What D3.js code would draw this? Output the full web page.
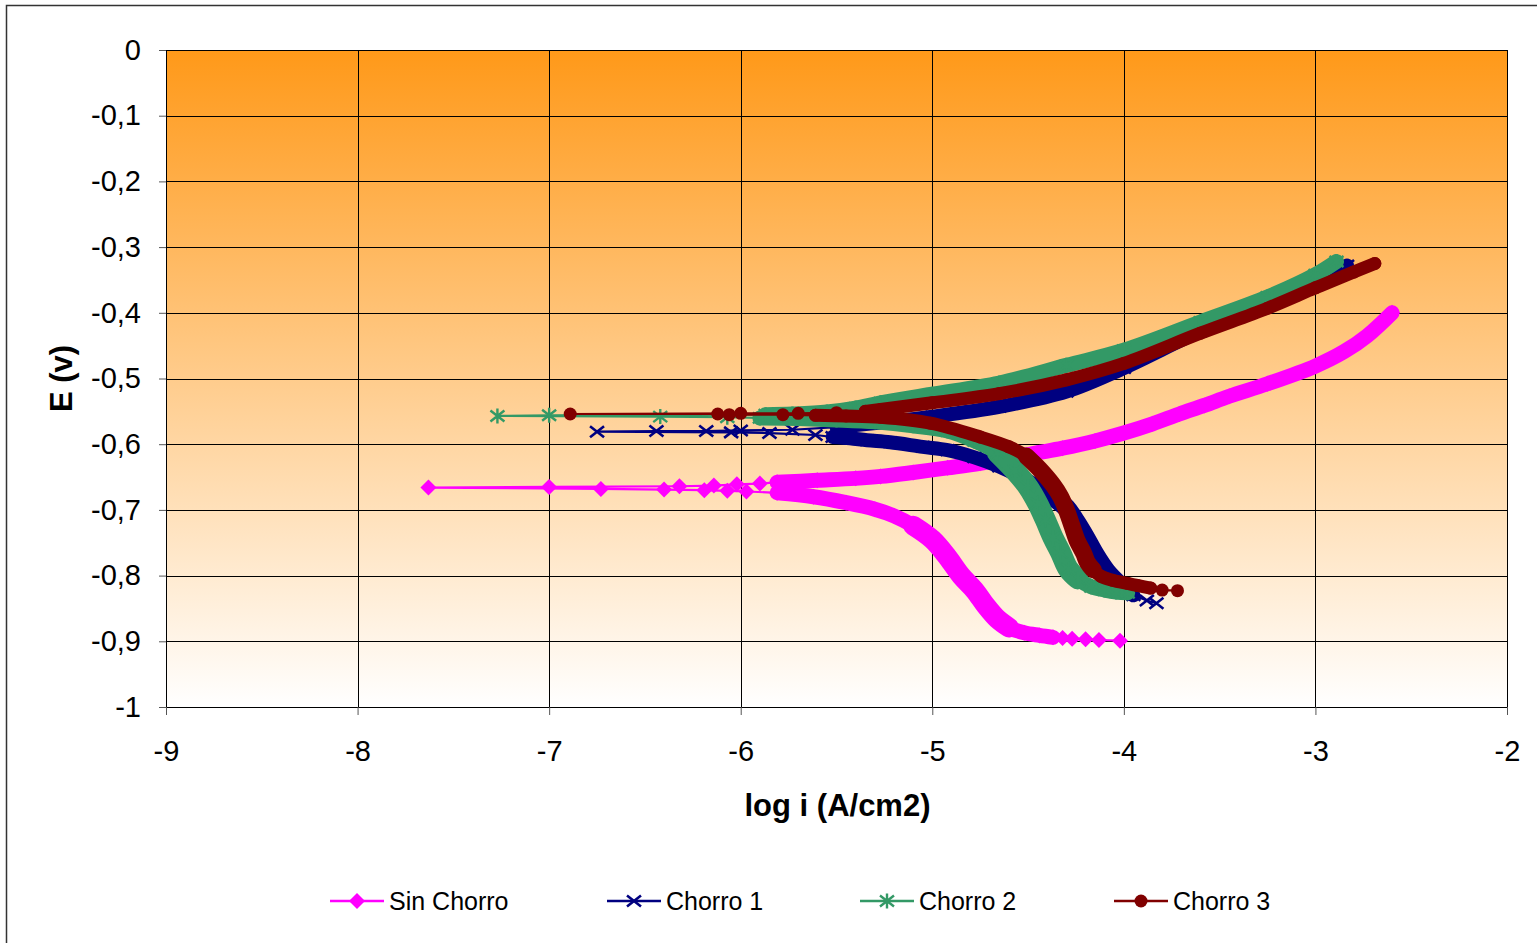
<!DOCTYPE html>
<html>
<head>
<meta charset="utf-8">
<script src="https://cdn.jsdelivr.net/npm/d3@7"></script>
<style>
  body { margin: 0; background: #fff; }
  text { font-family: "Liberation Sans", Arial, sans-serif; }
</style>
</head>
<body>
<svg id="chart" width="1537" height="943"></svg>
<script>
// tick values and labels
var xTicks = [-9, -8, -7, -6, -5, -4, -3, -2];
var yTicks = [0, -0.1, -0.2, -0.3, -0.4, -0.5, -0.6, -0.7, -0.8, -0.9, -1];
var yTickLabels = ["0", "-0,1", "-0,2", "-0,3", "-0,4", "-0,5", "-0,6", "-0,7", "-0,8", "-0,9", "-1"];

var seriesNames = ["Sin Chorro", "Chorro 1", "Chorro 2", "Chorro 3"];

// [log i, E] in scan order: cathodic end -> Ecorr -> anodic end
var sinChorro = [
  [-4.02, -0.899], [-4.13, -0.898], [-4.20, -0.897], [-4.27, -0.896], [-4.32, -0.895],
  [-4.37, -0.894], [-4.44, -0.891], [-4.52, -0.887], [-4.60, -0.879], [-4.66, -0.866],
  [-4.72, -0.846], [-4.78, -0.822], [-4.85, -0.800], [-4.92, -0.772], [-5.00, -0.745],
  [-5.10, -0.724], [-5.20, -0.709], [-5.30, -0.699], [-5.45, -0.689], [-5.62, -0.680],
  [-5.81, -0.674], [-5.97, -0.672], [-6.07, -0.671], [-6.19, -0.670], [-6.40, -0.669],
  [-6.73, -0.668], [-7.63, -0.666], [-7.00, -0.665], [-6.32, -0.664], [-6.14, -0.663],
  [-6.02, -0.661], [-5.90, -0.660], [-5.81, -0.658], [-5.60, -0.655], [-5.40, -0.652],
  [-5.27, -0.649], [-5.10, -0.643], [-4.92, -0.636], [-4.75, -0.629], [-4.58, -0.620],
  [-4.45, -0.613], [-4.32, -0.606], [-4.15, -0.595], [-4.00, -0.583], [-3.85, -0.569],
  [-3.71, -0.554], [-3.58, -0.541], [-3.45, -0.527], [-3.25, -0.508], [-3.00, -0.481],
  [-2.85, -0.459], [-2.73, -0.435], [-2.60, -0.400]
];
var chorro1 = [
  [-3.83, -0.842], [-3.88, -0.838], [-3.95, -0.830], [-4.02, -0.815], [-4.09, -0.794],
  [-4.15, -0.768], [-4.20, -0.742], [-4.25, -0.718], [-4.30, -0.697], [-4.37, -0.680],
  [-4.45, -0.664], [-4.55, -0.648], [-4.65, -0.634], [-4.78, -0.620], [-4.92, -0.609],
  [-5.05, -0.604], [-5.22, -0.597], [-5.34, -0.594], [-5.43, -0.591], [-5.52, -0.589],
  [-5.61, -0.586], [-5.85, -0.583], [-6.05, -0.582], [-6.75, -0.581], [-6.44, -0.580],
  [-6.18, -0.580], [-6.00, -0.579], [-5.73, -0.578], [-5.50, -0.574], [-5.27, -0.567],
  [-5.00, -0.558], [-4.65, -0.543], [-4.30, -0.520], [-4.00, -0.484], [-3.60, -0.428],
  [-3.25, -0.386], [-3.00, -0.354], [-2.835, -0.328]
];
var chorro2 = [
  [-3.98, -0.826], [-4.04, -0.825], [-4.10, -0.822], [-4.17, -0.817], [-4.24, -0.805],
  [-4.29, -0.790], [-4.33, -0.765], [-4.37, -0.742], [-4.41, -0.715], [-4.45, -0.690],
  [-4.50, -0.665], [-4.57, -0.640], [-4.66, -0.613], [-4.78, -0.595], [-4.92, -0.580],
  [-5.10, -0.572], [-5.30, -0.566], [-5.50, -0.563], [-5.70, -0.561], [-5.90, -0.560],
  [-6.07, -0.559], [-6.42, -0.558], [-7.27, -0.557], [-7.00, -0.556], [-5.87, -0.555],
  [-5.73, -0.554], [-5.55, -0.551], [-5.40, -0.545], [-5.27, -0.537], [-5.00, -0.524],
  [-4.65, -0.507], [-4.30, -0.480], [-4.00, -0.457], [-3.60, -0.414], [-3.25, -0.376],
  [-3.00, -0.342], [-2.89, -0.322]
];
var chorro3 = [
  [-3.72, -0.823], [-3.80, -0.822], [-3.86, -0.819], [-3.93, -0.815], [-3.98, -0.812],
  [-4.06, -0.807], [-4.12, -0.801], [-4.16, -0.791], [-4.19, -0.780], [-4.21, -0.766],
  [-4.245, -0.746], [-4.27, -0.725], [-4.30, -0.700], [-4.33, -0.680], [-4.37, -0.662],
  [-4.44, -0.638], [-4.51, -0.618], [-4.60, -0.604], [-4.75, -0.589], [-5.01, -0.568],
  [-5.27, -0.559], [-5.45, -0.557], [-5.61, -0.556], [-5.78, -0.555], [-6.06, -0.555],
  [-6.12, -0.554], [-6.89, -0.554], [-6.00, -0.553], [-5.70, -0.553], [-5.50, -0.552],
  [-5.35, -0.550], [-5.27, -0.547], [-5.00, -0.537], [-4.65, -0.523], [-4.30, -0.502],
  [-4.00, -0.477], [-3.60, -0.431], [-3.25, -0.393], [-3.00, -0.362], [-2.80, -0.338],
  [-2.69, -0.325]
];

// index ranges where the scan points crowd together and the markers merge into a band
var sinChorroDense = [[5, 9], [8, 15], [14, 20], [32, 52]];
var chorro1Dense = [[2, 4], [3, 10], [9, 19], [28, 37]];
var chorro2Dense = [[0, 5], [4, 12], [11, 19], [24, 36]];
var chorro3Dense = [[2, 8], [7, 16], [15, 22], [30, 40]];

var series = [
  { name: seriesNames[0], data: sinChorro, dense: sinChorroDense, color: "#ff00ff", marker: "diamond", bands: [15, 20, 15, 15] },
  { name: seriesNames[1], data: chorro1, dense: chorro1Dense, color: "#000080", marker: "times", bands: [14, 19, 14, 14] },
  { name: seriesNames[2], data: chorro2, dense: chorro2Dense, color: "#339966", marker: "asterisk", bands: [15, 21, 15, 15] },
  { name: seriesNames[3], data: chorro3, dense: chorro3Dense, color: "#800000", marker: "circle", bands: [13, 17, 13, 13] }
];

var svg = d3.select("#chart");
var plotL = 166, plotR = 1507, plotT = 50, plotB = 707;

var x = d3.scaleLinear().domain([-9, -2]).range([plotL, plotR]);
var y = d3.scaleLinear().domain([-1, 0]).range([plotB, plotT]);

// outer frame
svg.append("rect")
  .attr("x", 6.5).attr("y", 5.5)
  .attr("width", 1600).attr("height", 1000)
  .attr("fill", "none").attr("stroke", "#333").attr("stroke-width", 1.5);

var grad = svg.append("defs").append("linearGradient")
  .attr("id", "bg").attr("x1", 0).attr("y1", 0).attr("x2", 0).attr("y2", 1);
grad.append("stop").attr("offset", "0%").attr("stop-color", "#ff9919");
grad.append("stop").attr("offset", "100%").attr("stop-color", "#ffffff");

svg.append("rect")
  .attr("x", plotL).attr("y", plotT)
  .attr("width", plotR - plotL).attr("height", plotB - plotT)
  .attr("fill", "url(#bg)");

// grid
var grid = svg.append("g").attr("stroke", "#000").attr("stroke-width", 1);
grid.selectAll(".h").data(yTicks).enter().append("line")
  .attr("x1", plotL).attr("x2", plotR)
  .attr("y1", function(d) { return Math.round(y(d)) + 0.5; })
  .attr("y2", function(d) { return Math.round(y(d)) + 0.5; });
grid.selectAll(".v").data(xTicks).enter().append("line")
  .attr("y1", plotT).attr("y2", plotB)
  .attr("x1", function(d) { return Math.round(x(d)) + 0.5; })
  .attr("x2", function(d) { return Math.round(x(d)) + 0.5; });

// axes
var yAxis = svg.append("g")
  .attr("transform", "translate(" + plotL + ",0)")
  .call(d3.axisLeft(y).tickValues(yTicks)
    .tickFormat(function(d, i) { return yTickLabels[i]; })
    .tickSizeInner(7).tickSizeOuter(0).tickPadding(18));
var xAxis = svg.append("g")
  .attr("transform", "translate(0," + plotB + ")")
  .call(d3.axisBottom(x).tickValues(xTicks)
    .tickFormat(function(d) { return String(d); })
    .tickSizeInner(8).tickSizeOuter(0).tickPadding(25));
[xAxis, yAxis].forEach(function(a) {
  a.select(".domain").remove();
  a.selectAll(".tick line").attr("stroke", "#555");
  a.selectAll(".tick text").attr("fill", "#000")
    .style("font-size", "29px").style("font-family", "'Liberation Sans', Arial, sans-serif");
});

svg.append("text")
  .attr("x", (plotL + plotR) / 2 + 1).attr("y", 816)
  .attr("text-anchor", "middle")
  .style("font-size", "31px").style("font-weight", "bold")
  .text("log i (A/cm2)");
svg.append("text")
  .attr("transform", "translate(72," + ((plotT + plotB) / 2) + ") rotate(-90)")
  .attr("text-anchor", "middle")
  .style("font-size", "31px").style("font-weight", "bold")
  .text("E (v)");

function drawMarker(g, type, color) {
  if (type === "diamond") {
    g.append("path").attr("d", "M0,-8L8,0L0,8L-8,0Z").attr("fill", color);
  } else if (type === "times") {
    g.append("path").attr("d", "M-7,-5.5L7,5.5M-7,5.5L7,-5.5")
      .attr("stroke", color).attr("stroke-width", 2.6).attr("fill", "none");
  } else if (type === "asterisk") {
    g.append("path").attr("d", "M-7,-5.5L7,5.5M-7,5.5L7,-5.5M0,-7.5L0,7.5")
      .attr("stroke", color).attr("stroke-width", 2.4).attr("fill", "none");
  } else {
    g.append("circle").attr("r", 6.5).attr("fill", color);
  }
}

var line = d3.line()
  .x(function(d) { return x(d[0]); })
  .y(function(d) { return y(d[1]); });
var bandLine = d3.line()
  .x(function(d) { return x(d[0]); })
  .y(function(d) { return y(d[1]); })
  .curve(d3.curveCatmullRom.alpha(0.5));

series.forEach(function(s) {
  var g = svg.append("g");
  g.append("path").attr("d", line(s.data))
    .attr("fill", "none").attr("stroke", s.color).attr("stroke-width", 2.2);
  s.dense.forEach(function(r, k) {
    g.append("path").attr("d", bandLine(s.data.slice(r[0], r[1] + 1)))
      .attr("fill", "none").attr("stroke", s.color)
      .attr("stroke-width", s.bands[k])
      .attr("stroke-linejoin", "round").attr("stroke-linecap", "round");
  });
  g.selectAll(".m").data(s.data).enter().append("g")
    .attr("transform", function(d) { return "translate(" + x(d[0]) + "," + y(d[1]) + ")"; })
    .each(function() { drawMarker(d3.select(this), s.marker, s.color); });
});

// legend
var legendX = [330, 607, 860, 1114];
var legendY = 901;
series.forEach(function(s, i) {
  var g = svg.append("g").attr("transform", "translate(" + legendX[i] + "," + legendY + ")");
  g.append("line").attr("x1", 0).attr("x2", 54).attr("y1", 0).attr("y2", 0)
    .attr("stroke", s.color).attr("stroke-width", 2.5);
  var m = g.append("g").attr("transform", "translate(27,0)");
  drawMarker(m, s.marker, s.color);
  g.append("text").attr("x", 59).attr("y", 0).attr("dy", "0.35em")
    .style("font-size", "25px").attr("fill", "#000").text(s.name);
});
</script>
</body>
</html>
